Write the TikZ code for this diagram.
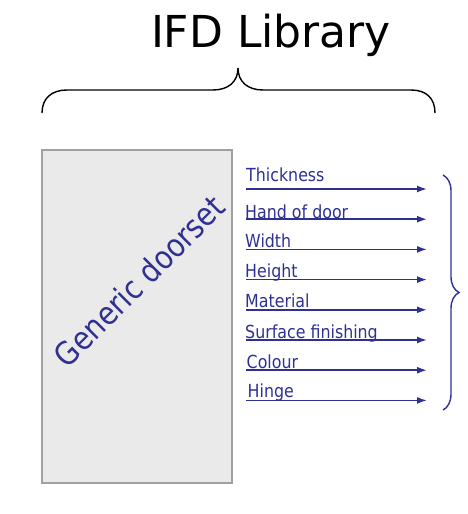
\documentclass[tikz,border=0pt]{standalone}
\usepackage{fontspec}
\setmainfont{DejaVu Sans}
\newfontfamily\narrowfont[FakeStretch=0.88]{DejaVu Sans}
\usetikzlibrary{arrows.meta,decorations.pathreplacing}
\definecolor{ifdblue}{RGB}{46,49,146}
\definecolor{doorfill}{RGB}{234,234,234}
\definecolor{doorline}{RGB}{160,160,160}
\tikzset{
    door/.style = {draw=doorline, fill=doorfill, rectangle, line width=1.4pt,
        minimum width=190pt,
        minimum height=333pt, inner sep=0pt},
    doorlabel/.style = {text=ifdblue, rotate=45, inner sep=0pt,
        font=\narrowfont\fontsize{32}{36}\selectfont},
    attr/.style = {text=ifdblue, anchor=base west, inner sep=0pt,
        font=\narrowfont\fontsize{18}{20}\selectfont},
    attrarrow/.style = {draw=ifdblue, line width=1.6pt, -{Latex[length=10pt,width=7pt]}},
    title/.style = {anchor=base, inner sep=0pt, font=\fontsize{44}{50}\selectfont},
    bracestyle/.style = {line width=1.4pt}
}

\begin{document}
\begin{tikzpicture}[x=1pt, y=-1pt]
        \useasboundingbox (0,0) rectangle (467,514);
        \node [title] (title) at (271,47) {IFD Library};
        \draw [bracestyle] (42,113) .. controls (42,98) and (52,90) .. (67,90) -- (213,90)
            .. controls (228,90) and (238,82) .. (238,68)
            .. controls (238,82) and (248,90) .. (263,90) -- (411,90)
            .. controls (426,90) and (435,98) .. (435,113);
        \node [door] (door) at (137,316.5) {};
        \node [doorlabel] (doorname) at (139,281) {Generic doorset};
        \node [attr] (thick) at (246,181.7) {Thickness};
        \node [attr] (hand) at (245,218) {Hand of door};
        \node [attr] (width) at (245,247.5) {Width};
        \node [attr] (height) at (245,277) {Height};
        \node [attr] (material) at (245,307) {Material};
        \node [attr] (surface) at (245,338.5) {Surface finishing};
        \node [attr] (colour) at (246.5,368.5) {Colour};
        \node [attr] (hinge) at (247.5,397) {Hinge};
        \coordinate (thickS) at (246,189);      \coordinate (thickE) at (427,189);
        \coordinate (handS) at (246,219.2);     \coordinate (handE) at (427,219.2);
        \coordinate (widthS) at (246,249.4);    \coordinate (widthE) at (427,249.4);
        \coordinate (heightS) at (246,279.6);   \coordinate (heightE) at (427,279.6);
        \coordinate (materialS) at (246,309.8); \coordinate (materialE) at (427,309.8);
        \coordinate (surfaceS) at (246,340);    \coordinate (surfaceE) at (427,340);
        \coordinate (colourS) at (246,370.2);   \coordinate (colourE) at (427,370.2);
        \coordinate (hingeS) at (246,400.4);    \coordinate (hingeE) at (427,400.4);
        \draw [attrarrow] (thickS) -- (thickE);
        \draw [attrarrow] (handS) -- (handE);
        \draw [attrarrow] (widthS) -- (widthE);
        \draw [attrarrow] (heightS) -- (heightE);
        \draw [attrarrow] (materialS) -- (materialE);
        \draw [attrarrow] (surfaceS) -- (surfaceE);
        \draw [attrarrow] (colourS) -- (colourE);
        \draw [attrarrow] (hingeS) -- (hingeE);
        \coordinate (braceT) at (443,175);
        \coordinate (braceB) at (443,410);
        \draw [bracestyle, draw=ifdblue, decorate, decoration={brace, amplitude=16pt}] (braceT) -- (braceB);
    \end{tikzpicture}
\end{document}
